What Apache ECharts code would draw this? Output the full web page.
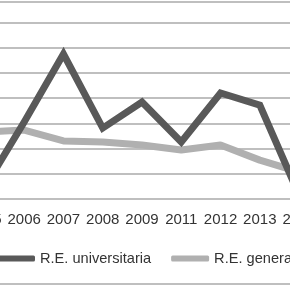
<!DOCTYPE html>
<html><head><meta charset="utf-8">
<script src="https://cdn.jsdelivr.net/npm/echarts@6/dist/echarts.min.js"></script>
<style>html,body{margin:0;padding:0;background:#fff}#c{width:290px;height:290px}</style>
</head><body><div id="c"></div>
<script>
const years = ['2005','2006','2007','2008','2009','2011','2012','2013','2014'];
const universitaria = [0.48, 3.05, 5.74, 2.81, 3.84, 2.26, 4.2, 3.72, 0.16];
const generale = [2.65, 2.73, 2.3, 2.26, 2.14, 1.94, 2.14, 1.54, 1.07];
const seriesNames = ['R.E. universitaria', 'R.E. generale'];

const chart = echarts.init(document.getElementById('c'), null, {renderer: 'canvas'});
chart.setOption({
  animation: false,
  backgroundColor: '#fff',
  grid: {left: -34.7, right: -28.7, top: -3, bottom: 91, containLabel: false, outerBoundsMode: 'none'},
  xAxis: {
    type: 'category', data: years, boundaryGap: true,
    axisLine: {show: false}, axisTick: {show: false},
    axisLabel: {color: '#333', fontSize: 15, fontFamily: 'Liberation Sans, Arial, sans-serif', margin: 13, interval: 0, hideOverlap: false}
  },
  yAxis: {
    type: 'value', min: 0, max: 8, interval: 1,
    axisLabel: {show: false}, axisLine: {show: false}, axisTick: {show: false},
    splitLine: {lineStyle: {color: '#aaaaaa', width: 1.5}}
  },
  legend: {
    left: -3, top: 251, padding: 0, width: 600, itemWidth: 38, itemHeight: 6, itemGap: 20,
    icon: 'roundRect',
    textStyle: {color: '#333', fontSize: 14.6, fontFamily: 'Liberation Sans, Arial, sans-serif'},
    data: seriesNames
  },
  graphic: [
    {type: 'line', shape: {x1: 0, y1: 2, x2: 290, y2: 2}, style: {stroke: '#aaaaaa', lineWidth: 1.5}},
    {type: 'line', shape: {x1: 0, y1: 284, x2: 290, y2: 284}, style: {stroke: '#aaaaaa', lineWidth: 1.5}}
  ],
  series: [
    {name: seriesNames[0], type: 'line', data: universitaria, symbol: 'none',
     lineStyle: {color: '#595959', width: 7, join: 'miter'}, itemStyle: {color: '#595959'}, z: 3},
    {name: seriesNames[1], type: 'line', data: generale, symbol: 'none',
     lineStyle: {color: '#b0b0b0', width: 7}, itemStyle: {color: '#b0b0b0'}, z: 2}
  ]
});
</script></body></html>
